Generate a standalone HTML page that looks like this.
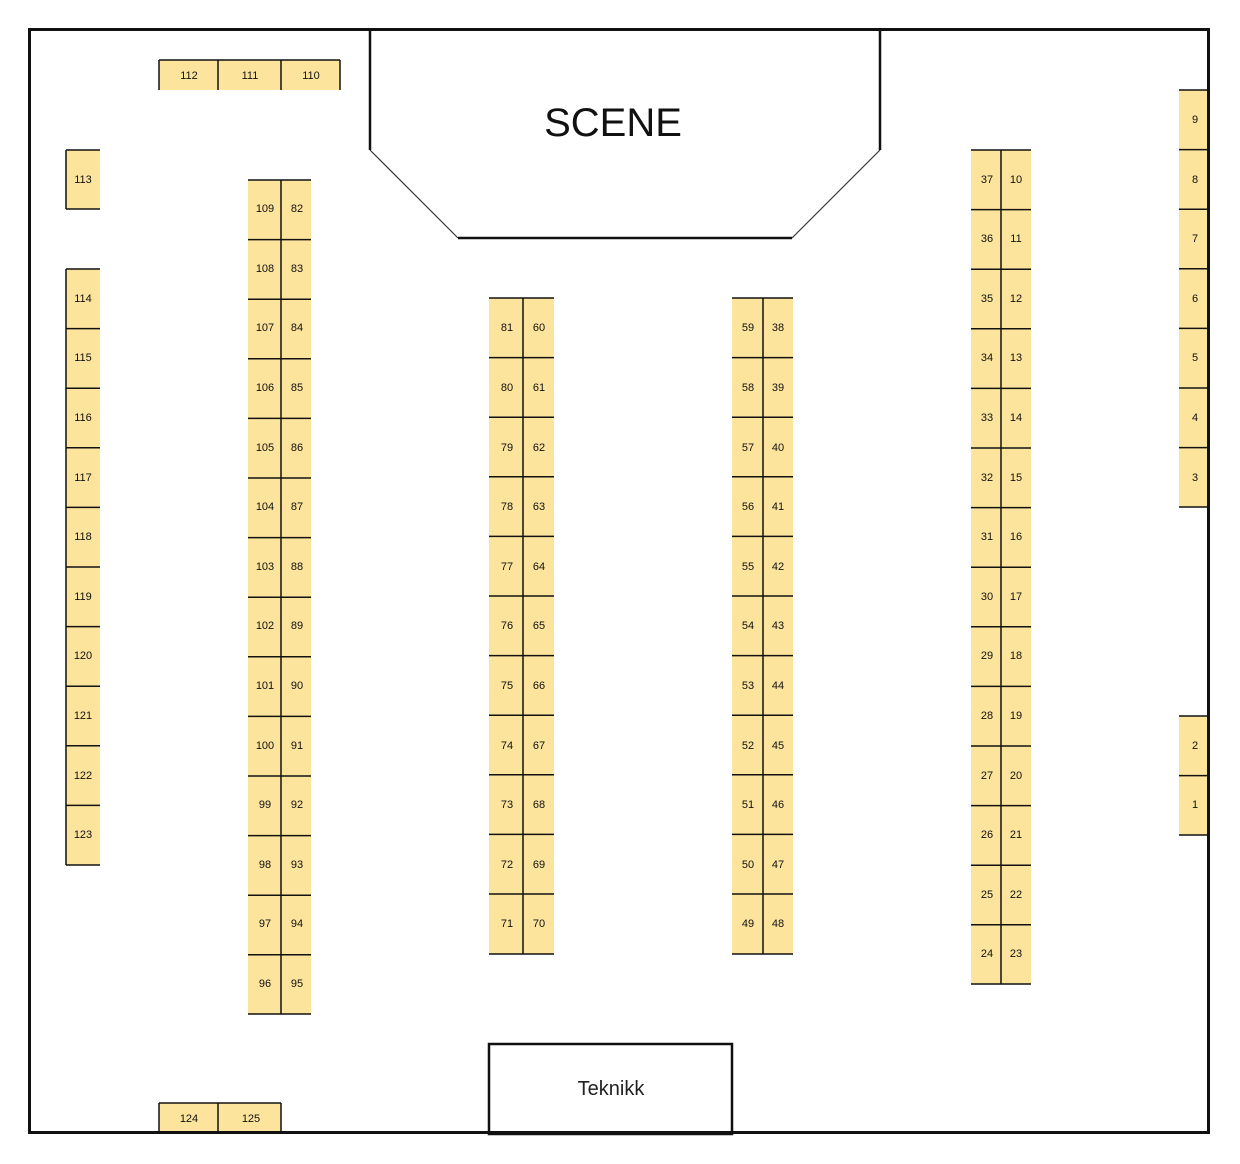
<!DOCTYPE html>
<html><head><meta charset="utf-8"><style>
html,body{margin:0;padding:0;background:#fff;}
svg{display:block;}
text{font-family:"Liberation Sans",Arial,sans-serif;font-size:11px;fill:#111;text-anchor:middle;}
</style></head><body>
<svg width="1240" height="1164" viewBox="0 0 1240 1164" xmlns="http://www.w3.org/2000/svg">
<rect x="0" y="0" width="1240" height="1164" fill="#fff"/>
<g fill="#fde49c">
<rect x="248" y="180" width="63" height="834"/>
<rect x="489" y="298" width="65" height="656"/>
<rect x="732" y="298" width="61" height="656"/>
<rect x="971" y="150" width="60" height="834"/>
<rect x="66" y="150" width="34" height="59"/>
<rect x="66" y="269" width="34" height="596"/>
<rect x="1179" y="90" width="29" height="417"/>
<rect x="1179" y="716" width="29" height="119"/>
<rect x="159" y="60" width="181" height="30"/>
<rect x="159" y="1103" width="122" height="30"/>
</g>
<g stroke="#111" stroke-width="1.5" fill="none">
<!-- Block A -->
<path d="M248 180H311M248 239.6H311M248 299.2H311M248 358.8H311M248 418.4H311M248 478H311M248 537.6H311M248 597.2H311M248 656.8H311M248 716.4H311M248 776H311M248 835.6H311M248 895.2H311M248 954.8H311M248 1014H311M281 180V1014"/>
<!-- Block B -->
<path d="M489 298H554M489 357.6H554M489 417.2H554M489 476.8H554M489 536.4H554M489 596H554M489 655.6H554M489 715.2H554M489 774.8H554M489 834.4H554M489 894H554M489 954H554M523 298V954"/>
<!-- Block C -->
<path d="M732 298H793M732 357.6H793M732 417.2H793M732 476.8H793M732 536.4H793M732 596H793M732 655.6H793M732 715.2H793M732 774.8H793M732 834.4H793M732 894H793M732 954H793M763 298V954"/>
<!-- Block D -->
<path d="M971 150H1031M971 209.6H1031M971 269.2H1031M971 328.8H1031M971 388.4H1031M971 448H1031M971 507.6H1031M971 567.2H1031M971 626.8H1031M971 686.4H1031M971 746H1031M971 805.6H1031M971 865.2H1031M971 924.8H1031M971 984H1031M1001 150V984"/>
<!-- Left col -->
<path d="M66 150H100M66 209H100M66 150V209"/>
<path d="M66 269H100M66 328.6H100M66 388.2H100M66 447.8H100M66 507.4H100M66 567H100M66 626.6H100M66 686.2H100M66 745.8H100M66 805.4H100M66 865H100M66 269V865"/>
<!-- Right col -->
<path d="M1179 90H1208M1179 149.6H1208M1179 209.2H1208M1179 268.8H1208M1179 328.4H1208M1179 388H1208M1179 447.6H1208M1179 507H1208"/>
<path d="M1179 716H1208M1179 775.6H1208M1179 835H1208"/>
<!-- top row -->
<path d="M159 60H340M159 60V90M218 60V90M281 60V90M340 60V90"/>
<!-- bottom row -->
<path d="M159 1103H281M159 1103V1133M218 1103V1133M281 1103V1133"/>
</g>
<!-- walls -->
<rect x="29.5" y="29.5" width="1179" height="1103" fill="none" stroke="#111" stroke-width="3"/>
<path d="M370 29V150M880 29V150M458 238H792" stroke="#111" stroke-width="2.5" fill="none"/>
<path d="M370 150L458 238M880 150L792 238" stroke="#333" stroke-width="1.2" fill="none"/>
<rect x="489" y="1044" width="243" height="90" fill="none" stroke="#111" stroke-width="2.5"/>
<text x="613" y="136" style="font-size:40px;fill:#111">SCENE</text>
<text x="611" y="1095" style="font-size:20px;fill:#222">Teknikk</text>
<!-- labels -->
<g>
<text x="189" y="79">112</text><text x="250" y="79">111</text><text x="311" y="79">110</text>
<text x="189" y="1122">124</text><text x="251" y="1122">125</text>
<text x="83" y="183">113</text>
<text x="83" y="302">114</text><text x="83" y="361">115</text><text x="83" y="421">116</text><text x="83" y="481">117</text><text x="83" y="540">118</text><text x="83" y="600">119</text><text x="83" y="659">120</text><text x="83" y="719">121</text><text x="83" y="779">122</text><text x="83" y="838">123</text>
<text x="1195" y="123">9</text><text x="1195" y="183">8</text><text x="1195" y="242">7</text><text x="1195" y="302">6</text><text x="1195" y="361">5</text><text x="1195" y="421">4</text><text x="1195" y="481">3</text>
<text x="1195" y="749">2</text><text x="1195" y="808">1</text>
<!-- Block A -->
<text x="265" y="212">109</text><text x="297" y="212">82</text>
<text x="265" y="272">108</text><text x="297" y="272">83</text>
<text x="265" y="331">107</text><text x="297" y="331">84</text>
<text x="265" y="391">106</text><text x="297" y="391">85</text>
<text x="265" y="451">105</text><text x="297" y="451">86</text>
<text x="265" y="510">104</text><text x="297" y="510">87</text>
<text x="265" y="570">103</text><text x="297" y="570">88</text>
<text x="265" y="629">102</text><text x="297" y="629">89</text>
<text x="265" y="689">101</text><text x="297" y="689">90</text>
<text x="265" y="749">100</text><text x="297" y="749">91</text>
<text x="265" y="808">99</text><text x="297" y="808">92</text>
<text x="265" y="868">98</text><text x="297" y="868">93</text>
<text x="265" y="927">97</text><text x="297" y="927">94</text>
<text x="265" y="987">96</text><text x="297" y="987">95</text>
<!-- Block B -->
<text x="507" y="331">81</text><text x="539" y="331">60</text>
<text x="507" y="391">80</text><text x="539" y="391">61</text>
<text x="507" y="451">79</text><text x="539" y="451">62</text>
<text x="507" y="510">78</text><text x="539" y="510">63</text>
<text x="507" y="570">77</text><text x="539" y="570">64</text>
<text x="507" y="629">76</text><text x="539" y="629">65</text>
<text x="507" y="689">75</text><text x="539" y="689">66</text>
<text x="507" y="749">74</text><text x="539" y="749">67</text>
<text x="507" y="808">73</text><text x="539" y="808">68</text>
<text x="507" y="868">72</text><text x="539" y="868">69</text>
<text x="507" y="927">71</text><text x="539" y="927">70</text>
<!-- Block C -->
<text x="748" y="331">59</text><text x="778" y="331">38</text>
<text x="748" y="391">58</text><text x="778" y="391">39</text>
<text x="748" y="451">57</text><text x="778" y="451">40</text>
<text x="748" y="510">56</text><text x="778" y="510">41</text>
<text x="748" y="570">55</text><text x="778" y="570">42</text>
<text x="748" y="629">54</text><text x="778" y="629">43</text>
<text x="748" y="689">53</text><text x="778" y="689">44</text>
<text x="748" y="749">52</text><text x="778" y="749">45</text>
<text x="748" y="808">51</text><text x="778" y="808">46</text>
<text x="748" y="868">50</text><text x="778" y="868">47</text>
<text x="748" y="927">49</text><text x="778" y="927">48</text>
<!-- Block D -->
<text x="987" y="183">37</text><text x="1016" y="183">10</text>
<text x="987" y="242">36</text><text x="1016" y="242">11</text>
<text x="987" y="302">35</text><text x="1016" y="302">12</text>
<text x="987" y="361">34</text><text x="1016" y="361">13</text>
<text x="987" y="421">33</text><text x="1016" y="421">14</text>
<text x="987" y="481">32</text><text x="1016" y="481">15</text>
<text x="987" y="540">31</text><text x="1016" y="540">16</text>
<text x="987" y="600">30</text><text x="1016" y="600">17</text>
<text x="987" y="659">29</text><text x="1016" y="659">18</text>
<text x="987" y="719">28</text><text x="1016" y="719">19</text>
<text x="987" y="779">27</text><text x="1016" y="779">20</text>
<text x="987" y="838">26</text><text x="1016" y="838">21</text>
<text x="987" y="898">25</text><text x="1016" y="898">22</text>
<text x="987" y="957">24</text><text x="1016" y="957">23</text>
</g>
</svg>
</body></html>
